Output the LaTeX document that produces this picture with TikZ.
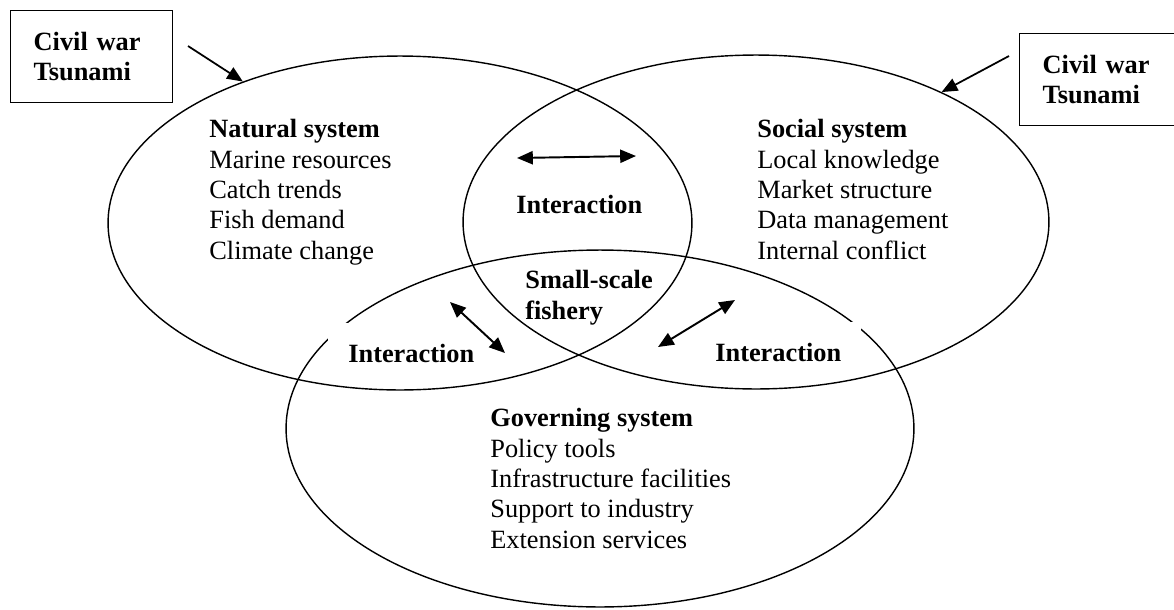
\documentclass[tikz,border=0pt]{standalone}
\usepackage{fontspec}
\setmainfont{Liberation Serif}
\usetikzlibrary{arrows.meta,shapes.geometric}

\tikzset{
  every node/.style={font=\fontsize{15}{17.3}\selectfont},
  system/.style={
    ellipse, draw=black, line width=0.8pt, inner sep=0pt
  },
  shock/.style={
    rectangle, draw=black, line width=0.8pt,
    align=left, font=\fontsize{15}{17.3}\selectfont\bfseries,
    text width=2.32cm, inner xsep=0.46cm,
    minimum height=1.84cm, anchor=north west
  },
  factors/.style={anchor=north west, align=left, inner sep=0pt},
  interaction/.style={
    font=\fontsize{15}{17.3}\selectfont\bfseries,
    anchor=base west, inner sep=0pt
  },
  coverbox/.style={
    interaction, fill=white, text height=0.58cm, text depth=0pt,
    inner xsep=0.4cm, inner ysep=0.2cm
  },
  arrow/.style={-{Triangle[length=9pt,width=7.5pt]}, line width=1pt},
  twoway/.style={
    {Triangle[length=9pt,width=7.5pt]}-{Triangle[length=9pt,width=7.5pt]},
    line width=1.1pt
  },
}

\begin{document}
\begin{tikzpicture}[x=0.02cm, y=-0.02cm]
  \useasboundingbox (0,0) rectangle (1174,609);
  \clip (0,0) rectangle (1174,609);

  % the three systems
  \node[system, minimum width=11.68cm, minimum height=6.68cm] (natural) at (400,223) {};
  \node[system, minimum width=11.72cm, minimum height=6.68cm] (social) at (756,222) {};
  \node[system, minimum width=12.56cm, minimum height=7.14cm] (governing) at (600,428.5) {};

  % what each system holds
  \node[factors] (natural-list) at (209,119)
    {\textbf{Natural system}\\Marine resources\\Catch trends\\Fish demand\\Climate change};
  \node[factors] (social-list) at (757,119)
    {\textbf{Social system}\\Local knowledge\\Market structure\\Data management\\Internal conflict};
  \node[factors] (governing-list) at (490,408)
    {\textbf{Governing system}\\Policy tools\\Infrastructure facilities\\Support to industry\\Extension services};
  \node[factors, font=\fontsize{15}{17.6}\selectfont\bfseries] (fishery) at (525,270)
    {Small-scale\\fishery};

  % interaction labels
  \node[interaction] (inter-top) at (516,213) {Interaction};
  \node[coverbox] (inter-left) at (328,362) {Interaction};
  \node[coverbox] (inter-right) at (695,361) {Interaction};

  \coordinate (top-a) at (517,158);
  \coordinate (top-b) at (636,156);
  \coordinate (left-a) at (450,302);
  \coordinate (left-b) at (505,353);
  \coordinate (right-a) at (735,300);
  \coordinate (right-b) at (658,347);
  \draw[twoway] (top-a) -- (top-b);
  \draw[twoway] (left-a) -- (left-b);
  \draw[twoway] (right-a) -- (right-b);

  % external shocks
  \node[shock] (shock-left) at (10,10) {Civil war\\Tsunami};
  \node[shock, text width=2.8cm] (shock-right) at (1019,33) {Civil war\\Tsunami};
  \coordinate (shock-left-out) at (188,46);
  \coordinate (shock-right-out) at (1009,56);
  \draw[arrow] (shock-left-out) -- (natural.138);
  \draw[arrow] (shock-right-out) -- (social.35);
\end{tikzpicture}
\end{document}
